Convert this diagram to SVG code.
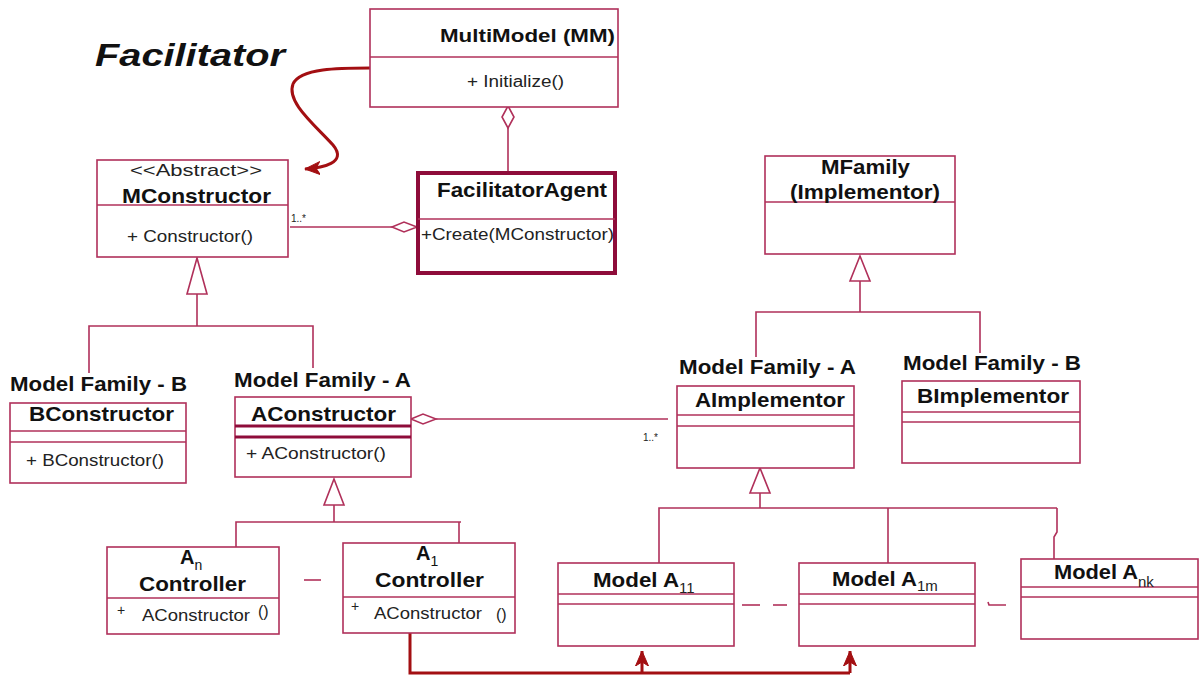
<svg xmlns="http://www.w3.org/2000/svg" width="1200" height="676" viewBox="0 0 1200 676">
<style>
.box{fill:#fff;stroke:#B0305A;stroke-width:1.6}
.thick{fill:#fff;stroke:#8E0C3A;stroke-width:4}
.ln{fill:none;stroke:#B0305A;stroke-width:1.6}
.lnT{fill:none;stroke:#8E0C3A;stroke-width:3}
.red{fill:none;stroke:#A30F12;stroke-width:3}
.b{font-family:"Liberation Sans",Arial,sans-serif;font-weight:bold;fill:#111}
.r{font-family:"Liberation Sans",Arial,sans-serif;fill:#222}
.t{font-size:21px}
.m{font-size:16px}
</style>
<defs>
<marker id="barb" viewBox="0 0 16 16" refX="15" refY="8" markerWidth="16" markerHeight="16" markerUnits="userSpaceOnUse" orient="auto">
<path d="M0,1.5 L15,8 L0,14.5 L4,8 Z" fill="#A30F12" stroke="#A30F12" stroke-width="1" stroke-linejoin="round"/>
</marker>
</defs>
<rect width="1200" height="676" fill="#fff"/>
<text class="b" x="95" y="66" font-size="32" font-style="italic" textLength="190" lengthAdjust="spacingAndGlyphs">Facilitator</text>

<g id="connectors">
<line class="ln" x1="508" y1="128" x2="508" y2="173"/>
<path d="M508,106 L514,117 L508,128 L502,117 Z" fill="#fff" stroke="#B0305A" stroke-width="1.6"/>
<line class="ln" x1="290" y1="227" x2="392" y2="227"/>
<path d="M392,227 L404,222 L417,227 L404,232 Z" fill="#fff" stroke="#B0305A" stroke-width="1.6"/>
<text class="r" x="291" y="222" font-size="10">1..*</text>
<path class="red" d="M370,68 C340,68 300,68 293,84 C286,102 315,125 333,145 C348,163 322,168 305,169" marker-end="url(#barb)"/>
<path d="M197,258 L207,294 L187,294 Z" fill="#fff" stroke="#B0305A" stroke-width="1.6"/>
<polyline class="ln" points="197,294 197,326"/>
<polyline class="ln" points="89,373 89,326 313,326 313,368"/>
<path d="M860,256 L870,281 L850,281 Z" fill="#fff" stroke="#B0305A" stroke-width="1.6"/>
<line class="ln" x1="860" y1="281" x2="860" y2="312"/>
<polyline class="ln" points="756,357 756,312 980,312 980,353"/>
<line class="ln" x1="436" y1="419" x2="668" y2="419"/>
<path d="M411,419 L423,414 L436,419 L423,424 Z" fill="#fff" stroke="#B0305A" stroke-width="1.6"/>
<text class="r" x="643" y="441" font-size="10">1..*</text>
<path d="M334,479 L344,505 L324,505 Z" fill="#fff" stroke="#B0305A" stroke-width="1.6"/>
<line class="ln" x1="334" y1="505" x2="334" y2="522"/>
<polyline class="ln" points="236,547 236,522 461,522"/>
<line class="ln" x1="459" y1="522" x2="459" y2="543"/>
<line class="ln" x1="304" y1="580" x2="321" y2="580"/>
<path d="M760,468 L770,493 L750,493 Z" fill="#fff" stroke="#B0305A" stroke-width="1.6"/>
<line class="ln" x1="760" y1="493" x2="760" y2="508"/>
<polyline class="ln" points="659,563 659,508 1057,508"/>
<line class="ln" x1="888" y1="508" x2="888" y2="563"/>
<polyline class="ln" points="1057,508 1057,532 1054,537 1054,559"/>
<line class="ln" x1="742" y1="605" x2="760" y2="605"/>
<line class="ln" x1="773" y1="605" x2="787" y2="605"/>
<polyline class="ln" points="988,602 989,605 1006,605"/>
<polyline class="red" points="410,633 410,673 850,673"/>
<line class="red" x1="642" y1="673" x2="642" y2="651" marker-end="url(#barb)"/>
<line class="red" x1="850" y1="673" x2="850" y2="651" marker-end="url(#barb)"/>
</g>

<g id="multimodel">
<rect class="box" x="370" y="9" width="248" height="98"/>
<line class="ln" x1="370" y1="57" x2="618" y2="57"/>
<text class="b" x="440" y="42" font-size="19" textLength="175" lengthAdjust="spacingAndGlyphs">MultiModel (MM)</text>
<text class="r m" x="467" y="87" textLength="97" lengthAdjust="spacingAndGlyphs">+ Initialize()</text>
</g>

<g id="mconstructor">
<rect class="box" x="97" y="160" width="191" height="97"/>
<line class="ln" x1="97" y1="205" x2="288" y2="205"/>
<text class="r" x="130" y="176" font-size="17" textLength="132" lengthAdjust="spacingAndGlyphs">&lt;&lt;Abstract&gt;&gt;</text>
<text class="b t" x="122" y="203" textLength="149" lengthAdjust="spacingAndGlyphs">MConstructor</text>
<text class="r m" x="127" y="242" textLength="126" lengthAdjust="spacingAndGlyphs">+ Constructor()</text>
</g>

<g id="facilitatoragent">
<rect class="thick" x="418" y="173" width="197" height="100"/>
<line class="ln" x1="418" y1="219" x2="615" y2="219" stroke-width="2"/>
<text class="b t" x="437" y="197" textLength="170" lengthAdjust="spacingAndGlyphs">FacilitatorAgent</text>
<text class="r m" x="421" y="240" textLength="193" lengthAdjust="spacingAndGlyphs">+Create(MConstructor)</text>
</g>

<g id="mfamily">
<rect class="box" x="765" y="156" width="190" height="98"/>
<line class="ln" x1="765" y1="202" x2="955" y2="202"/>
<text class="b" x="821" y="174" font-size="20" textLength="89" lengthAdjust="spacingAndGlyphs">MFamily</text>
<text class="b" x="790" y="199" font-size="20" textLength="150" lengthAdjust="spacingAndGlyphs">(Implementor)</text>
</g>

<g id="aimplementor">
<text class="b t" x="679" y="374" textLength="177" lengthAdjust="spacingAndGlyphs">Model Family - A</text>
<rect class="box" x="677" y="386" width="177" height="82"/>
<line class="ln" x1="677" y1="415" x2="854" y2="415"/>
<line class="ln" x1="677" y1="426" x2="854" y2="426"/>
<text class="b t" x="695" y="407" textLength="150" lengthAdjust="spacingAndGlyphs">AImplementor</text>
</g>

<g id="bimplementor">
<text class="b t" x="903" y="370" textLength="178" lengthAdjust="spacingAndGlyphs">Model Family - B</text>
<rect class="box" x="902" y="381" width="178" height="82"/>
<line class="ln" x1="902" y1="412" x2="1080" y2="412"/>
<line class="ln" x1="902" y1="422" x2="1080" y2="422"/>
<text class="b t" x="917" y="403" textLength="152" lengthAdjust="spacingAndGlyphs">BImplementor</text>
</g>

<g id="bconstructor">
<text class="b t" x="10" y="391" textLength="177" lengthAdjust="spacingAndGlyphs">Model Family - B</text>
<rect class="box" x="10" y="403" width="176" height="80"/>
<line class="ln" x1="10" y1="431" x2="186" y2="431"/>
<line class="ln" x1="10" y1="442" x2="186" y2="442"/>
<text class="b t" x="29" y="421" textLength="145" lengthAdjust="spacingAndGlyphs">BConstructor</text>
<text class="r m" x="26" y="466" textLength="138" lengthAdjust="spacingAndGlyphs">+ BConstructor()</text>
</g>

<g id="aconstructor">
<text class="b t" x="234" y="387" textLength="177" lengthAdjust="spacingAndGlyphs">Model Family - A</text>
<rect class="box" x="235" y="397" width="176" height="80" stroke="#8E0C3A" stroke-width="3"/>
<line class="lnT" x1="235" y1="426" x2="411" y2="426"/>
<line class="lnT" x1="235" y1="437" x2="411" y2="437"/>
<text class="b t" x="251" y="421" textLength="145" lengthAdjust="spacingAndGlyphs">AConstructor</text>
<text class="r m" x="246" y="459" textLength="140" lengthAdjust="spacingAndGlyphs">+ AConstructor()</text>
</g>

<g id="an-controller">
<rect class="box" x="107" y="547" width="172" height="87"/>
<line class="ln" x1="107" y1="598" x2="279" y2="598"/>
<text class="b" x="180" y="564" font-size="20">A<tspan font-size="14" font-weight="normal" dy="6">n</tspan></text>
<text class="b t" x="139" y="591" textLength="107" lengthAdjust="spacingAndGlyphs">Controller</text>
<text class="r" x="117" y="615" font-size="14">+</text>
<text class="r m" x="142" y="621" textLength="108" lengthAdjust="spacingAndGlyphs">AConstructor</text>
<text class="r m" x="258" y="617">()</text>
</g>

<g id="a1-controller">
<rect class="box" x="343" y="543" width="172" height="90"/>
<line class="ln" x1="343" y1="597" x2="515" y2="597"/>
<text class="b" x="416" y="560" font-size="20">A<tspan font-size="14" font-weight="normal" dy="6">1</tspan></text>
<text class="b t" x="375" y="587" textLength="109" lengthAdjust="spacingAndGlyphs">Controller</text>
<text class="r" x="351" y="611" font-size="14">+</text>
<text class="r m" x="374" y="619" textLength="108" lengthAdjust="spacingAndGlyphs">AConstructor</text>
<text class="r m" x="496" y="620">()</text>
</g>

<g id="model-a11">
<rect class="box" x="558" y="563" width="176" height="83"/>
<line class="ln" x1="558" y1="594" x2="734" y2="594"/>
<line class="ln" x1="558" y1="604" x2="734" y2="604"/>
<text class="b" x="593" y="587" font-size="20" textLength="86" lengthAdjust="spacingAndGlyphs">Model A</text>
<text class="r" x="679" y="593" font-size="15">11</text>
</g>

<g id="model-a1m">
<rect class="box" x="799" y="563" width="176" height="83"/>
<line class="ln" x1="799" y1="594" x2="975" y2="594"/>
<line class="ln" x1="799" y1="604" x2="975" y2="604"/>
<text class="b" x="832" y="586" font-size="20" textLength="85" lengthAdjust="spacingAndGlyphs">Model A</text>
<text class="r" x="917" y="591" font-size="15">1m</text>
</g>

<g id="model-ank">
<rect class="box" x="1021" y="559" width="177" height="80"/>
<line class="ln" x1="1021" y1="587" x2="1198" y2="587"/>
<line class="ln" x1="1021" y1="597" x2="1198" y2="597"/>
<text class="b" x="1054" y="579" font-size="20" textLength="84" lengthAdjust="spacingAndGlyphs">Model A</text>
<text class="r" x="1138" y="587" font-size="15">nk</text>
</g>
</svg>
